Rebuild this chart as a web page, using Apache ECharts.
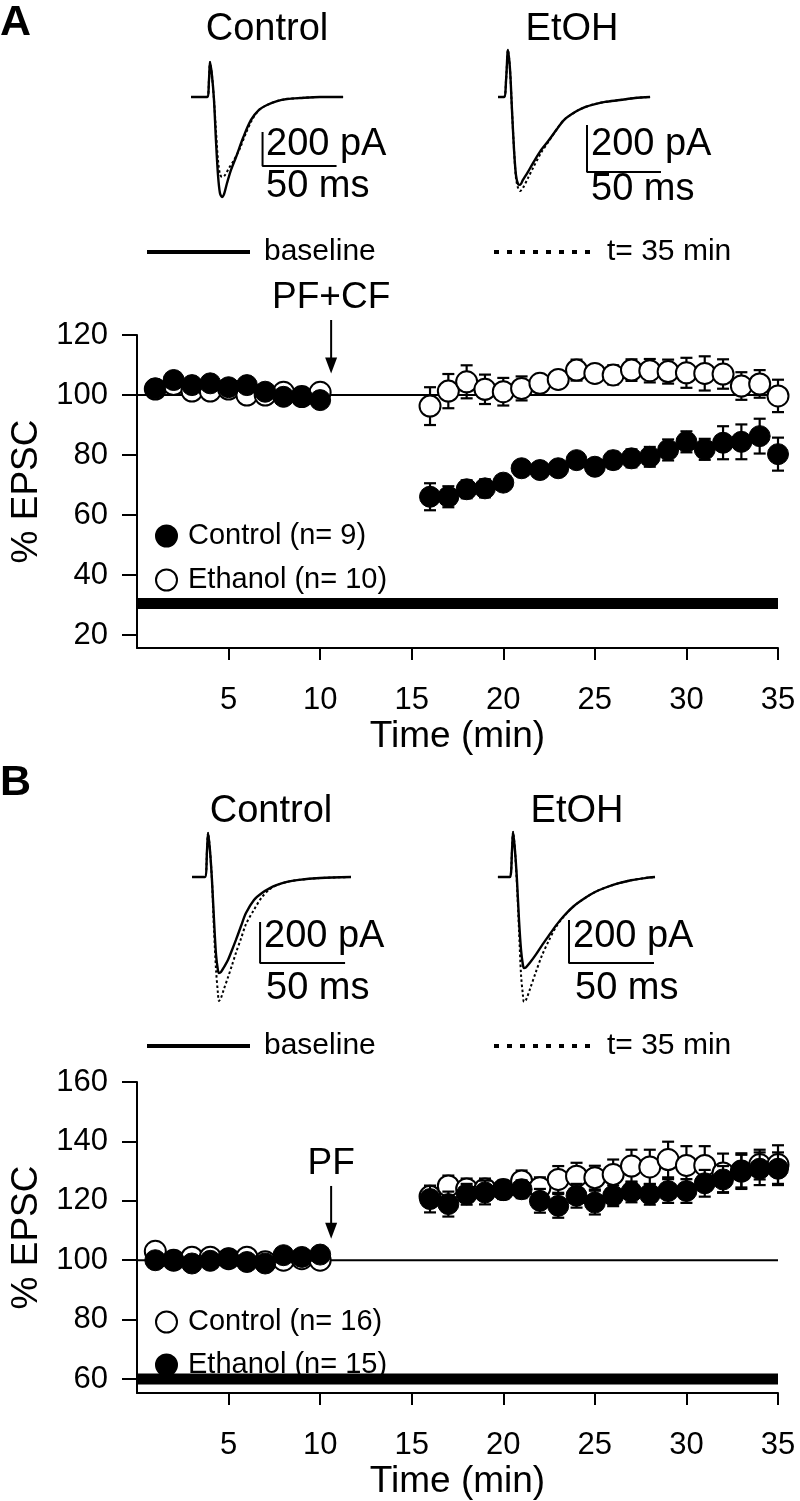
<!DOCTYPE html>
<html><head><meta charset="utf-8">
<script src="https://cdn.jsdelivr.net/npm/echarts@6/dist/echarts.min.js"></script>
<style>html,body{margin:0;padding:0;background:#fff}#c{width:800px;height:1501px}</style>
</head><body><div id="c"></div>
<script>
// ---------- time axis (min) ----------
const times = [1,2,3,4,5,6,7,8,9,10,16,17,18,19,20,21,22,23,24,25,26,27,28,29,30,31,32,33,34,35];
const xTicks = [5,10,15,20,25,30,35];
const yTicksA = [20,40,60,80,100,120];
const yTicksB = [60,80,100,120,140,160];

// ---------- Panel A (PF+CF) ----------
const A_control = [102.2,105,103.3,103.9,102.6,103.3,101.1,99.4,99.4,98.3,
  66.1,66.1,68.6,68.9,70.8,75.6,75,75.6,78.3,76.1,78.3,78.9,79.4,81.7,84.4,81.9,84.1,84.4,86.3,80.3];
const A_controlErr = [1,1,1,1,1,1,1,1,1,1,
  4.5,3.5,3,3,1.5,1.5,1.5,1.5,1.5,1.5,2.8,3,3.3,3.5,3.5,3.5,5.5,5.8,5.8,5.5];
const A_ethanol = [102,103.5,101.3,101.3,102,100,100,100.9,99.5,100.9,
  96.3,101.3,104.4,101.9,101.1,102.2,103.9,105.2,108.3,107.2,106.7,108.3,108.1,107.8,107.4,107.2,107,103,103.7,99.7];
const A_ethanolErr = [1,1,1,1,1,1,1,1,1,1,
  6.3,5.7,5.5,4.9,4.6,4,2,2.5,3.5,2,3.2,3.6,3.9,4,5,5.7,4.9,4.6,4.6,5.4];
const A_ethanolBarLevel = 30.5;

// ---------- Panel B (PF) ----------
const B_control = [103,100,101,101,100.5,101,99.5,100,100.5,100,
  121.5,125,124,124,123.8,126.7,124.4,127.2,128.3,127.8,128.9,131.7,131.4,133.9,131.9,131.9,129.4,130,132.2,132.2];
const B_controlErr = [1,1,1,1,1,1,1,1,1,1,
  3.5,3.5,3.5,3.5,3,3.5,3.5,4.5,4.5,4,5,5.5,5.8,6,6.5,6.5,6.5,5.5,5,6.5];
const B_ethanol = [100,100,98.9,99.8,100.6,99.4,98.9,101.7,101.1,101.9,
  120.6,118.9,122.2,122.8,123.6,123.9,120,118.3,121.7,119.4,121.7,123,122.2,123.3,123.3,125.9,127.2,130,130.8,130.8];
const B_ethanolErr = [1,1,1,1,1,1,1,1,1,1,
  4.5,4.2,3.5,4,3,3,4,4,4,4,3.5,3.5,3.5,4,4,4.5,4.5,6,5.5,5.5];
const B_ethanolBarLevel = 60;
const normLevel = 100;

// ---------- example EPSC traces: time (ms), current (pA) ----------
const trA_ctrl_t  = [4.1,10.1,14.9,16.2,16.9,18.2,19.6,20.9,22.3,23.6,25.0,26.4,28.4,31.1,34.5,39.2,44.6,50.0,55.4,62.2,68.9,77.7,91.2,106.8];
const trA_ctrl_base = [0,0,0,100,206,129,-18,-253,-459,-565,-588,-571,-506,-429,-353,-241,-135,-76,-47,-24,-12,-6,0,0];
const trA_ctrl_t35t = [4.1,10.1,14.9,16.2,16.9,18.2,19.6,20.9,22.3,23.6,25.0,27.0,29.7,33.1,37.2,41.2,45.3,50.0,55.4,62.2,68.9,77.7,91.2,106.8];
const trA_ctrl_t35  = [0,0,0,100,206,129,-18,-194,-371,-453,-471,-459,-418,-371,-300,-212,-135,-76,-47,-24,-12,-6,0,0];

const trA_etoh_t  = [4.1,8.1,9.5,10.8,12.2,13.5,14.9,16.2,17.6,18.9,20.9,24.3,27.7,33.1,38.5,43.9,48.6,56.1,62.8,69.6,76.4,86.5,96.6,106.8];
const trA_etoh_base = [0,0,72,200,115,-55,-226,-332,-370,-374,-353,-319,-281,-226,-183,-136,-98,-64,-43,-30,-21,-13,-4,0];
const trA_etoh_t35 = [0,0,72,200,115,-55,-226,-345,-387,-400,-387,-345,-302,-238,-187,-136,-98,-64,-43,-30,-21,-13,-4,0];

const trB_ctrl_t  = [2.4,7.1,10.0,11.2,11.8,12.9,14.1,15.3,16.5,17.6,18.2,19.4,21.2,23.5,25.9,28.2,31.2,34.1,38.8,43.5,48.2,52.4,58.2,64.1,77.6,95.9];
const trB_ctrl_base = [0,0,0,132,215,132,-15,-210,-380,-454,-468,-463,-439,-405,-356,-307,-239,-176,-112,-78,-54,-39,-24,-15,-5,0];
const trB_ctrl_t35  = [0,0,0,132,215,132,-15,-259,-454,-566,-605,-590,-545,-490,-430,-370,-300,-230,-160,-98,-59,-39,-24,-15,-5,0];

const trB_etoh_t  = [2.9,7.6,10.0,11.2,11.8,12.9,14.1,15.3,16.5,17.6,18.2,19.4,21.8,25.3,28.8,32.9,37.1,41.8,47.6,54.1,60.0,65.9,73.5,81.2,89.4,95.3];
const trB_etoh_base = [0,0,0,126,209,126,-14,-200,-340,-409,-423,-420,-398,-360,-318,-272,-225,-180,-135,-98,-70,-50,-30,-15,-5,0];
const trB_etoh_t35  = [0,0,0,126,209,126,-37,-247,-456,-549,-581,-572,-520,-440,-365,-295,-232,-182,-135,-98,-70,-50,-30,-15,-5,0];

// scale bars: corner [x ms, y pA] and sizes
const scaleBarPA = 200, scaleBarMS = 50;
const sbA_ctrl = [52.4,-406], sbA_etoh = [64.2,-319], sbB_ctrl = [42.4,-420], sbB_etoh = [44.7,-400];

// ---------- helpers ----------
const FONT = '"Liberation Sans", Arial, Helvetica, sans-serif';
const zip = (t, v) => t.map((x, i) => [x, v[i]]);
const zip3 = (t, v, e) => t.map((x, i) => [x, v[i], e[i]]);
function errRender(params, api) {
  const x = api.value(0), y = api.value(1), e = api.value(2);
  const hi = api.coord([x, y + e]), lo = api.coord([x, y - e]);
  const w = 6;
  const st = {stroke: '#000', lineWidth: 2.2};
  return {type: 'group', children: [
    {type: 'line', shape: {x1: hi[0], y1: hi[1], x2: lo[0], y2: lo[1]}, style: st},
    {type: 'line', shape: {x1: hi[0]-w, y1: hi[1], x2: hi[0]+w, y2: hi[1]}, style: st},
    {type: 'line', shape: {x1: lo[0]-w, y1: lo[1], x2: lo[0]+w, y2: lo[1]}, style: st}
  ]};
}
function mainX(gi) {
  return {gridIndex: gi, type: 'value', min: 0, max: 35, interval: 5,
    axisLine: {lineStyle: {color: '#000', width: 2}},
    axisTick: {length: 12, lineStyle: {color: '#000', width: 2}, customValues: xTicks},
    axisLabel: {color: '#000', fontSize: 31, fontFamily: FONT, margin: 37, customValues: xTicks},
    splitLine: {show: false},
    name: 'Time (min)', nameLocation: 'middle', nameGap: 70,
    nameTextStyle: {color: '#000', fontSize: 37, fontFamily: FONT}};
}
function mainY(gi, min, max, ticks) {
  return {gridIndex: gi, type: 'value', min: min, max: max,
    axisLine: {show: true, lineStyle: {color: '#000', width: 2}},
    axisTick: {show: true, length: 15, lineStyle: {color: '#000', width: 2}, customValues: ticks},
    axisLabel: {color: '#000', fontSize: 31, fontFamily: FONT, margin: 29, customValues: ticks},
    splitLine: {show: false},
    name: '% EPSC', nameLocation: 'middle', nameGap: 88, nameRotate: 90,
    nameTextStyle: {color: '#000', fontSize: 37, fontFamily: FONT}};
}
const hiddenAx = (gi, min, max) => ({gridIndex: gi, type: 'value', min: min, max: max, show: false});

function groupSeries(gi, name, vals, errs, filled, z) {
  return [
    {type: 'custom', xAxisIndex: gi, yAxisIndex: gi, renderItem: errRender, data: zip3(times, vals, errs),
     encode: {x: 0, y: 1}, z: z, silent: true},
    {type: 'scatter', name: name, xAxisIndex: gi, yAxisIndex: gi, data: zip(times, vals), symbol: 'circle', symbolSize: 21,
     itemStyle: filled ? {color: '#000', borderColor: '#000', borderWidth: 1, opacity: 1}
                       : {color: '#fff', borderColor: '#000', borderWidth: 2, opacity: 1},
     z: z + 1, silent: true}
  ];
}
function hline(gi, level, width) {
  return {type: 'line', xAxisIndex: gi, yAxisIndex: gi, data: [[0, level], [35, level]], showSymbol: false,
    lineStyle: {color: '#000', width: width}, z: 1, silent: true};
}
function traceSeries(gi, t, v, dotted) {
  return {type: 'line', xAxisIndex: gi, yAxisIndex: gi, data: zip(t, v), showSymbol: false, smooth: 0.3,
    lineStyle: {color: '#000', width: dotted ? 2 : 2.4, type: dotted ? [2.5, 2.5] : 'solid'}, silent: true, z: dotted ? 3 : 2};
}
function scaleBar(gi, c) {
  return {type: 'line', xAxisIndex: gi, yAxisIndex: gi, showSymbol: false, silent: true,
    data: [[c[0], c[1] + scaleBarPA], [c[0], c[1]], [c[0] + scaleBarMS, c[1]]],
    lineStyle: {color: '#000', width: 2}};
}

const chart = echarts.init(document.getElementById('c'), null, {renderer: 'canvas'});
const option = {
  backgroundColor: '#fff',
  animation: false,
  grid: [
    {left: 137, top: 335, width: 641, height: 313},
    {left: 137, top: 1082, width: 641, height: 314},
    {left: 185, top: 37.5, width: 177.6, height: 187},
    {left: 492, top: 38.25, width: 177.6, height: 188},
    {left: 188, top: 825.75, width: 170, height: 194.75},
    {left: 493, top: 823.25, width: 170, height: 204.25}
  ],
  xAxis: [mainX(0), mainX(1), hiddenAx(2, 0, 120), hiddenAx(3, 0, 120), hiddenAx(4, 0, 100), hiddenAx(5, 0, 100)],
  yAxis: [mainY(0, 15.7, 120, yTicksA), mainY(1, 55.3, 160, yTicksB),
    hiddenAx(2, -750, 350), hiddenAx(3, -550, 250), hiddenAx(4, -700, 250), hiddenAx(5, -700, 250)],
  legend: [
    {data: ['Control (n= 9)', 'Ethanol (n= 10)'], orient: 'vertical', left: 150, top: 516, itemWidth: 21, itemHeight: 21,
     itemGap: 14, icon: 'circle', selectedMode: false,
     textStyle: {color: '#000', fontSize: 29, fontFamily: FONT, lineHeight: 30, padding: [0, 0, 0, 6]}},
    {data: ['Control (n= 16)', 'Ethanol (n= 15)'], orient: 'vertical', left: 150, top: 1302, itemWidth: 21, itemHeight: 21,
     itemGap: 13, icon: 'circle', selectedMode: false,
     textStyle: {color: '#000', fontSize: 29, fontFamily: FONT, lineHeight: 30, padding: [0, 0, 0, 6]}}
  ],
  series: [
    hline(0, normLevel, 2), hline(0, A_ethanolBarLevel, 11),
    ...groupSeries(0, 'Ethanol (n= 10)', A_ethanol, A_ethanolErr, false, 4),
    ...groupSeries(0, 'Control (n= 9)', A_control, A_controlErr, true, 6),
    hline(1, normLevel, 2), hline(1, B_ethanolBarLevel, 11),
    ...groupSeries(1, 'Control (n= 16)', B_control, B_controlErr, false, 4),
    ...groupSeries(1, 'Ethanol (n= 15)', B_ethanol, B_ethanolErr, true, 6),
    traceSeries(2, trA_ctrl_t, trA_ctrl_base, false), traceSeries(2, trA_ctrl_t35t, trA_ctrl_t35, true), scaleBar(2, sbA_ctrl),
    traceSeries(3, trA_etoh_t, trA_etoh_base, false), traceSeries(3, trA_etoh_t, trA_etoh_t35, true), scaleBar(3, sbA_etoh),
    traceSeries(4, trB_ctrl_t, trB_ctrl_base, false), traceSeries(4, trB_ctrl_t, trB_ctrl_t35, true), scaleBar(4, sbB_ctrl),
    traceSeries(5, trB_etoh_t, trB_etoh_base, false), traceSeries(5, trB_etoh_t, trB_etoh_t35, true), scaleBar(5, sbB_etoh)
  ]
};
chart.setOption(option);

// ---------- annotations ----------
const arrowX = 10.6, arrowTop = 125, arrowTip = 107.2, arrowLabelY = 126.3;
function arrow(gi, label) {
  const p0 = chart.convertToPixel({xAxisIndex: gi, yAxisIndex: gi}, [arrowX, arrowTop]);
  const p1 = chart.convertToPixel({xAxisIndex: gi, yAxisIndex: gi}, [arrowX, arrowTip]);
  const pl = chart.convertToPixel({xAxisIndex: gi, yAxisIndex: gi}, [arrowX, arrowLabelY]);
  return [
    {type: 'line', shape: {x1: p0[0], y1: p0[1], x2: p1[0], y2: p1[1] - 10}, style: {stroke: '#000', lineWidth: 2}},
    {type: 'polygon', shape: {points: [[p1[0] - 6, p1[1] - 16], [p1[0] + 6, p1[1] - 16], [p1[0], p1[1]]]}, style: {fill: '#000'}},
    {type: 'text', x: pl[0], y: pl[1], style: {text: label, fill: '#000', font: '37px ' + FONT, align: 'center', verticalAlign: 'bottom'}}
  ];
}
function txt(x, y, s, size, align, weight) {
  return {type: 'text', x: x, y: y, style: {text: s, fill: '#000', font: (weight || 'normal') + ' ' + size + 'px ' + FONT,
    align: align || 'left', verticalAlign: 'middle'}};
}
function keyRow(y) {
  return [
    {type: 'line', shape: {x1: 147, y1: y, x2: 250, y2: y}, style: {stroke: '#000', lineWidth: 4}},
    txt(264, y, 'baseline', 30),
    {type: 'line', shape: {x1: 494, y1: y, x2: 598, y2: y}, style: {stroke: '#000', lineWidth: 4, lineDash: [5, 8]}},
    txt(607, y, 't= 35 min', 30)
  ];
}
chart.setOption({graphic: [
  txt(0, 23, 'A', 43, 'left', 'bold'),
  txt(0, 783, 'B', 43, 'left', 'bold'),
  txt(267, 30, 'Control', 38, 'center'), txt(572, 30, 'EtOH', 38, 'center'),
  txt(271, 812, 'Control', 38, 'center'), txt(577, 812, 'EtOH', 38, 'center'),
  txt(266, 145, '200 pA', 38), txt(266, 187, '50 ms', 38),
  txt(591, 145, '200 pA', 38), txt(591, 190, '50 ms', 38),
  txt(264, 937, '200 pA', 38), txt(266, 989, '50 ms', 38),
  txt(573, 937, '200 pA', 38), txt(575, 989, '50 ms', 38),
  ...keyRow(252), ...keyRow(1046),
  ...arrow(0, 'PF+CF'), ...arrow(1, 'PF')
]});
</script></body></html>
